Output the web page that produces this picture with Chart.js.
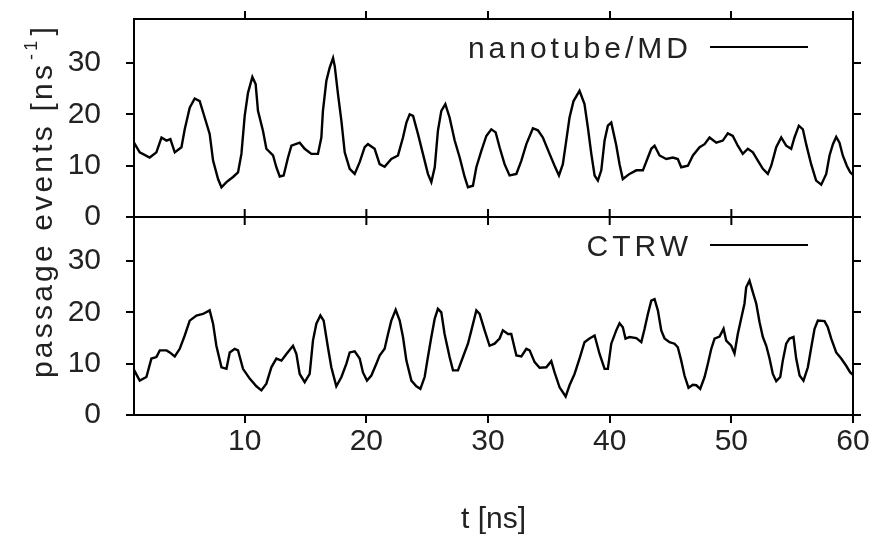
<!DOCTYPE html>
<html>
<head>
<meta charset="utf-8">
<script src="https://cdn.jsdelivr.net/npm/chart.js@4/dist/chart.umd.min.js"></script>
<style>
body { margin: 0; background: #fff; }
#wrap { width: 874px; height: 542px; position: relative; }
</style>
</head>
<body>
<div id="wrap"><canvas id="myChart"></canvas></div>
<script>
// time axis (ns) and passage events per ns
var tTop = [0.9, 1.37, 2.19, 2.74, 3.16, 3.57, 3.89, 4.25, 4.8, 5.07,
    5.48, 5.89, 6.3, 6.71, 7.12, 7.4, 7.81, 8.09, 8.5, 9.04,
    9.45, 9.73, 10.0, 10.27, 10.63, 10.9, 11.09, 11.5, 11.78, 12.33,
    12.6, 12.88, 13.2, 13.56, 13.84, 14.52, 14.93, 15.48, 16.02, 16.3,
    16.43, 16.71, 16.98, 17.26, 17.4, 17.67, 17.95, 18.22, 18.63, 19.04,
    19.45, 19.86, 20.13, 20.68, 21.09, 21.5, 22.05, 22.6, 23.01, 23.29,
    23.56, 23.84, 24.24, 24.65, 25.06, 25.34, 25.62, 25.88, 26.16, 26.49,
    26.84, 27.26, 27.67, 28.08, 28.35, 28.76, 29.04, 29.45, 29.86, 30.27,
    30.63, 30.95, 31.36, 31.77, 32.33, 32.74, 33.15, 33.69, 34.1, 34.51,
    35.06, 35.47, 35.83, 36.15, 36.43, 36.7, 37.03, 37.52, 37.93, 38.21,
    38.49, 38.76, 39.03, 39.31, 39.58, 39.85, 40.13, 40.54, 40.81, 41.08,
    41.63, 42.19, 42.73, 43.14, 43.42, 43.69, 44.1, 44.65, 45.19, 45.6,
    45.88, 46.43, 46.84, 47.39, 47.8, 48.21, 48.76, 49.3, 49.71, 50.12,
    50.53, 50.94, 51.36, 51.77, 52.18, 52.59, 53.0, 53.28, 53.69, 54.1,
    54.51, 54.92, 55.19, 55.55, 55.88, 56.15, 56.56, 56.97, 57.39, 57.8,
    58.07, 58.35, 58.62, 58.89, 59.16, 59.49, 59.77, 60.0];
var nanoVals = [14.5, 12.6, 11.6, 12.6, 15.5, 14.9, 15.2, 12.6, 13.6, 17.1,
    21.3, 23.1, 22.6, 19.4, 16.2, 11.0, 7.4, 5.8, 6.8, 7.8,
    8.7, 12.3, 19.7, 24.2, 27.3, 25.9, 20.7, 16.8, 13.3, 12.0,
    9.7, 7.9, 8.1, 11.6, 13.9, 14.5, 13.3, 12.3, 12.3, 15.5,
    20.7, 26.5, 29.1, 31.0, 29.4, 23.9, 18.7, 12.6, 9.4, 8.4,
    10.7, 13.6, 14.2, 13.3, 10.3, 9.8, 11.3, 12.0, 15.5, 18.4,
    20.0, 19.7, 16.2, 12.3, 8.4, 6.8, 9.7, 16.8, 20.7, 22.0,
    19.4, 14.9, 11.6, 7.8, 5.8, 6.1, 9.7, 12.9, 15.8, 17.1,
    16.5, 13.6, 10.3, 8.1, 8.4, 11.0, 14.2, 17.3, 16.9, 15.5,
    12.3, 10.0, 8.1, 10.3, 14.9, 19.4, 22.6, 24.6, 22.0, 17.4,
    12.3, 8.1, 7.1, 9.1, 14.9, 17.8, 18.4, 14.0, 10.3, 7.4,
    8.4, 9.1, 9.1, 11.6, 13.3, 13.9, 12.0, 11.3, 11.6, 11.3,
    9.7, 10.0, 12.0, 13.6, 14.2, 15.5, 14.5, 14.9, 16.3, 15.8,
    13.9, 12.3, 13.3, 12.6, 11.0, 9.4, 8.4, 10.0, 13.6, 15.5,
    13.9, 13.3, 15.5, 17.8, 17.1, 14.2, 10.3, 7.1, 6.3, 8.4,
    12.0, 14.2, 15.6, 14.5, 12.0, 10.0, 8.7, 8.2];

var tBot = [0.9, 1.37, 1.92, 2.33, 2.74, 3.02, 3.57, 3.84, 4.25, 4.66,
    5.07, 5.48, 6.03, 6.57, 7.12, 7.4, 7.67, 8.09, 8.5, 8.77,
    9.18, 9.45, 9.86, 10.41, 10.96, 11.37, 11.78, 12.19, 12.6, 13.02,
    13.43, 13.97, 14.25, 14.52, 14.93, 15.34, 15.61, 15.89, 16.22, 16.49,
    16.84, 17.12, 17.53, 17.95, 18.36, 18.63, 19.04, 19.45, 19.72, 20.05,
    20.41, 20.82, 21.09, 21.5, 21.78, 22.05, 22.41, 22.74, 23.01, 23.29,
    23.7, 24.11, 24.44, 24.79, 25.06, 25.34, 25.62, 25.88, 26.16, 26.43,
    26.84, 27.12, 27.53, 27.94, 28.35, 28.63, 29.04, 29.31, 29.72, 30.13,
    30.54, 30.95, 31.22, 31.64, 31.91, 32.33, 32.74, 33.15, 33.42, 33.83,
    34.24, 34.79, 35.2, 35.47, 35.88, 36.38, 36.7, 37.11, 37.52, 37.93,
    38.34, 38.76, 39.17, 39.58, 39.85, 40.13, 40.54, 40.81, 41.08, 41.3,
    41.63, 42.19, 42.6, 42.87, 43.14, 43.42, 43.69, 43.96, 44.24, 44.51,
    44.92, 45.33, 45.6, 45.88, 46.15, 46.48, 46.84, 47.12, 47.44, 47.8,
    48.07, 48.35, 48.62, 49.03, 49.36, 49.58, 49.99, 50.26, 50.53, 50.81,
    51.08, 51.22, 51.49, 51.77, 52.05, 52.32, 52.59, 52.87, 53.14, 53.41,
    53.69, 54.02, 54.23, 54.51, 54.78, 55.11, 55.33, 55.61, 55.93, 56.29,
    56.57, 56.84, 57.11, 57.66, 57.93, 58.21, 58.62, 59.03, 59.44, 59.77,
    60.0];
var ctrwVals = [8.8, 6.7, 7.4, 11.0, 11.3, 12.6, 12.6, 12.2, 11.4, 12.9,
    15.5, 18.4, 19.4, 19.7, 20.4, 17.8, 13.5, 9.3, 9.0, 12.2,
    12.9, 12.6, 9.0, 7.1, 5.6, 4.8, 6.1, 9.3, 11.0, 10.6,
    11.9, 13.5, 11.9, 8.0, 6.4, 8.0, 14.5, 17.8, 19.4, 18.4,
    13.2, 9.3, 5.6, 7.4, 10.0, 12.2, 12.4, 11.0, 8.3, 6.7,
    7.7, 10.0, 11.6, 12.9, 15.8, 18.4, 20.5, 18.4, 15.2, 10.6,
    6.7, 5.6, 5.1, 7.4, 11.3, 15.2, 18.8, 20.7, 20.0, 15.8,
    11.3, 8.7, 8.7, 11.3, 13.9, 16.5, 20.4, 19.7, 16.5, 13.5,
    13.9, 14.9, 16.5, 15.8, 15.8, 11.6, 11.4, 12.9, 12.6, 10.3,
    9.2, 9.3, 10.5, 8.3, 5.4, 3.6, 5.8, 8.0, 11.0, 14.2,
    14.9, 15.5, 11.9, 9.0, 9.0, 13.9, 16.5, 17.9, 17.1, 14.9,
    15.2, 15.0, 14.2, 16.8, 19.7, 22.3, 22.6, 20.4, 16.5, 14.9,
    14.2, 13.9, 13.2, 10.6, 7.7, 5.3, 5.9, 5.8, 5.1, 7.4,
    10.0, 12.9, 14.9, 15.3, 16.8, 14.5, 13.5, 12.0, 15.8, 18.8,
    21.7, 24.9, 26.2, 23.9, 21.7, 18.1, 15.2, 13.5, 11.0, 8.0,
    6.6, 7.4, 10.6, 13.9, 14.9, 15.2, 11.0, 7.7, 6.7, 9.3,
    13.2, 16.8, 18.4, 18.3, 17.1, 14.9, 12.2, 11.0, 9.6, 8.3,
    7.8];

var xTicks = [10, 20, 30, 40, 50, 60];
var yTicks = [0, 10, 20, 30];
var seriesNames = ['nanotube/MD', 'CTRW'];
var xTitle = 't [ns]';
var yTitle = ['passage events [ns', '-1', ']'];

var ctx = document.getElementById('myChart');
var FONT = "'Liberation Sans', Arial, sans-serif";

function pts(xs, ys) {
    return xs.map(function (x, i) { return { x: x, y: ys[i] }; });
}
function setTicks(list) {
    return function (scale) { scale.ticks = list.map(function (v) { return { value: v }; }); };
}
function yAxis(pos, labels, w) {
    return {
        type: 'linear', position: pos, stack: pos, stackWeight: 1,
        min: 0, max: 38.6,
        afterBuildTicks: setTicks(yTicks),
        afterFit: function (s) { s.width = w; s.paddingTop = 0; s.paddingBottom = 0; },
        border: { color: '#000', width: 2 },
        grid: { drawOnChartArea: false, color: '#000', lineWidth: 2, tickLength: 8 },
        ticks: { display: labels, padding: 25, color: '#222', font: { size: 30 } }
    };
}

// middle divider with ticks, key entries, rotated y label
var framePlugin = {
    id: 'frame',
    afterDraw: function (chart) {
        var c = chart.ctx, xs = chart.scales.x, area = chart.chartArea;
        var panels = [chart.scales.yTop, chart.scales.yBot];
        var mid = panels[0].bottom;
        c.save();
        c.strokeStyle = '#000';
        c.lineWidth = 2;
        c.beginPath();
        c.moveTo(area.left, mid);
        c.lineTo(area.right, mid);
        xs.ticks.forEach(function (t) {
            var px = xs.getPixelForValue(t.value);
            c.moveTo(px, mid - 8);
            c.lineTo(px, mid + 8);
        });
        c.stroke();

        c.font = '30px ' + FONT;
        c.fillStyle = '#222';
        c.textAlign = 'right';
        c.textBaseline = 'alphabetic';
        try { c.letterSpacing = '4px'; } catch (e) {}
        panels.forEach(function (p, i) {
            var y = p.top + 28;
            c.fillText(seriesNames[i], area.right - 161, y + 11);
            c.beginPath();
            c.moveTo(area.right - 143, y);
            c.lineTo(area.right - 45, y);
            c.stroke();
        });

        // y axis title with superscript
        try { c.letterSpacing = '3.2px'; } catch (e) {}
        c.translate(44, 201);
        c.rotate(-Math.PI / 2);
        c.textAlign = 'left';
        c.textBaseline = 'middle';
        c.font = '30px ' + FONT;
        var w0 = c.measureText(yTitle[0]).width;
        c.font = '18px ' + FONT;
        var w1 = c.measureText(yTitle[1]).width;
        c.font = '30px ' + FONT;
        var w2 = c.measureText(yTitle[2]).width;
        var x0 = -(w0 + w1 + w2 + 4) / 2;
        c.fillText(yTitle[0], x0, 0);
        c.font = '18px ' + FONT;
        c.fillText(yTitle[1], x0 + w0 + 2, -12);
        c.font = '30px ' + FONT;
        c.fillText(yTitle[2], x0 + w0 + w1 + 4, 0);
        c.restore();
    }
};

Chart.defaults.font.family = FONT;
Chart.defaults.font.size = 30;
Chart.defaults.color = '#222';

var myChart = new Chart(ctx, {
    type: 'line',
    data: {
        datasets: [{
            label: seriesNames[0],
            data: pts(tTop, nanoVals),
            yAxisID: 'yTop',
            borderColor: '#000',
            borderWidth: 2.4,
            pointRadius: 0,
            tension: 0,
            fill: false
        }, {
            label: seriesNames[1],
            data: pts(tBot, ctrwVals),
            yAxisID: 'yBot',
            borderColor: '#000',
            borderWidth: 2.4,
            pointRadius: 0,
            tension: 0,
            fill: false
        }]
    },
    options: {
        responsive: true,
        maintainAspectRatio: false,
        animation: false,
        layout: { padding: 0 },
        plugins: { legend: { display: false }, tooltip: { enabled: false } },
        scales: {
            x: {
                type: 'linear', position: 'bottom', min: 0.9, max: 60,
                afterBuildTicks: setTicks(xTicks),
                afterFit: function (s) { s.height = 127; },
                border: { color: '#000', width: 2 },
                grid: { drawOnChartArea: false, color: '#000', lineWidth: 2, tickLength: 8 },
                ticks: { padding: 1, color: '#222', maxRotation: 0 },
                title: { display: true, text: xTitle, color: '#222', padding: { top: 0, bottom: 4 } }
            },
            x2: {
                type: 'linear', position: 'top', min: 0.9, max: 60,
                afterBuildTicks: setTicks(xTicks),
                afterFit: function (s) { s.height = 19; },
                border: { color: '#000', width: 2 },
                grid: { drawOnChartArea: false, color: '#000', lineWidth: 2, tickLength: 8 },
                ticks: { display: false }
            },
            yBot: yAxis('left', true, 134),
            yTop: yAxis('left', true, 134),
            yBotR: yAxis('right', false, 21),
            yTopR: yAxis('right', false, 21)
        }
    },
    plugins: [framePlugin]
});
</script>
</body>
</html>
